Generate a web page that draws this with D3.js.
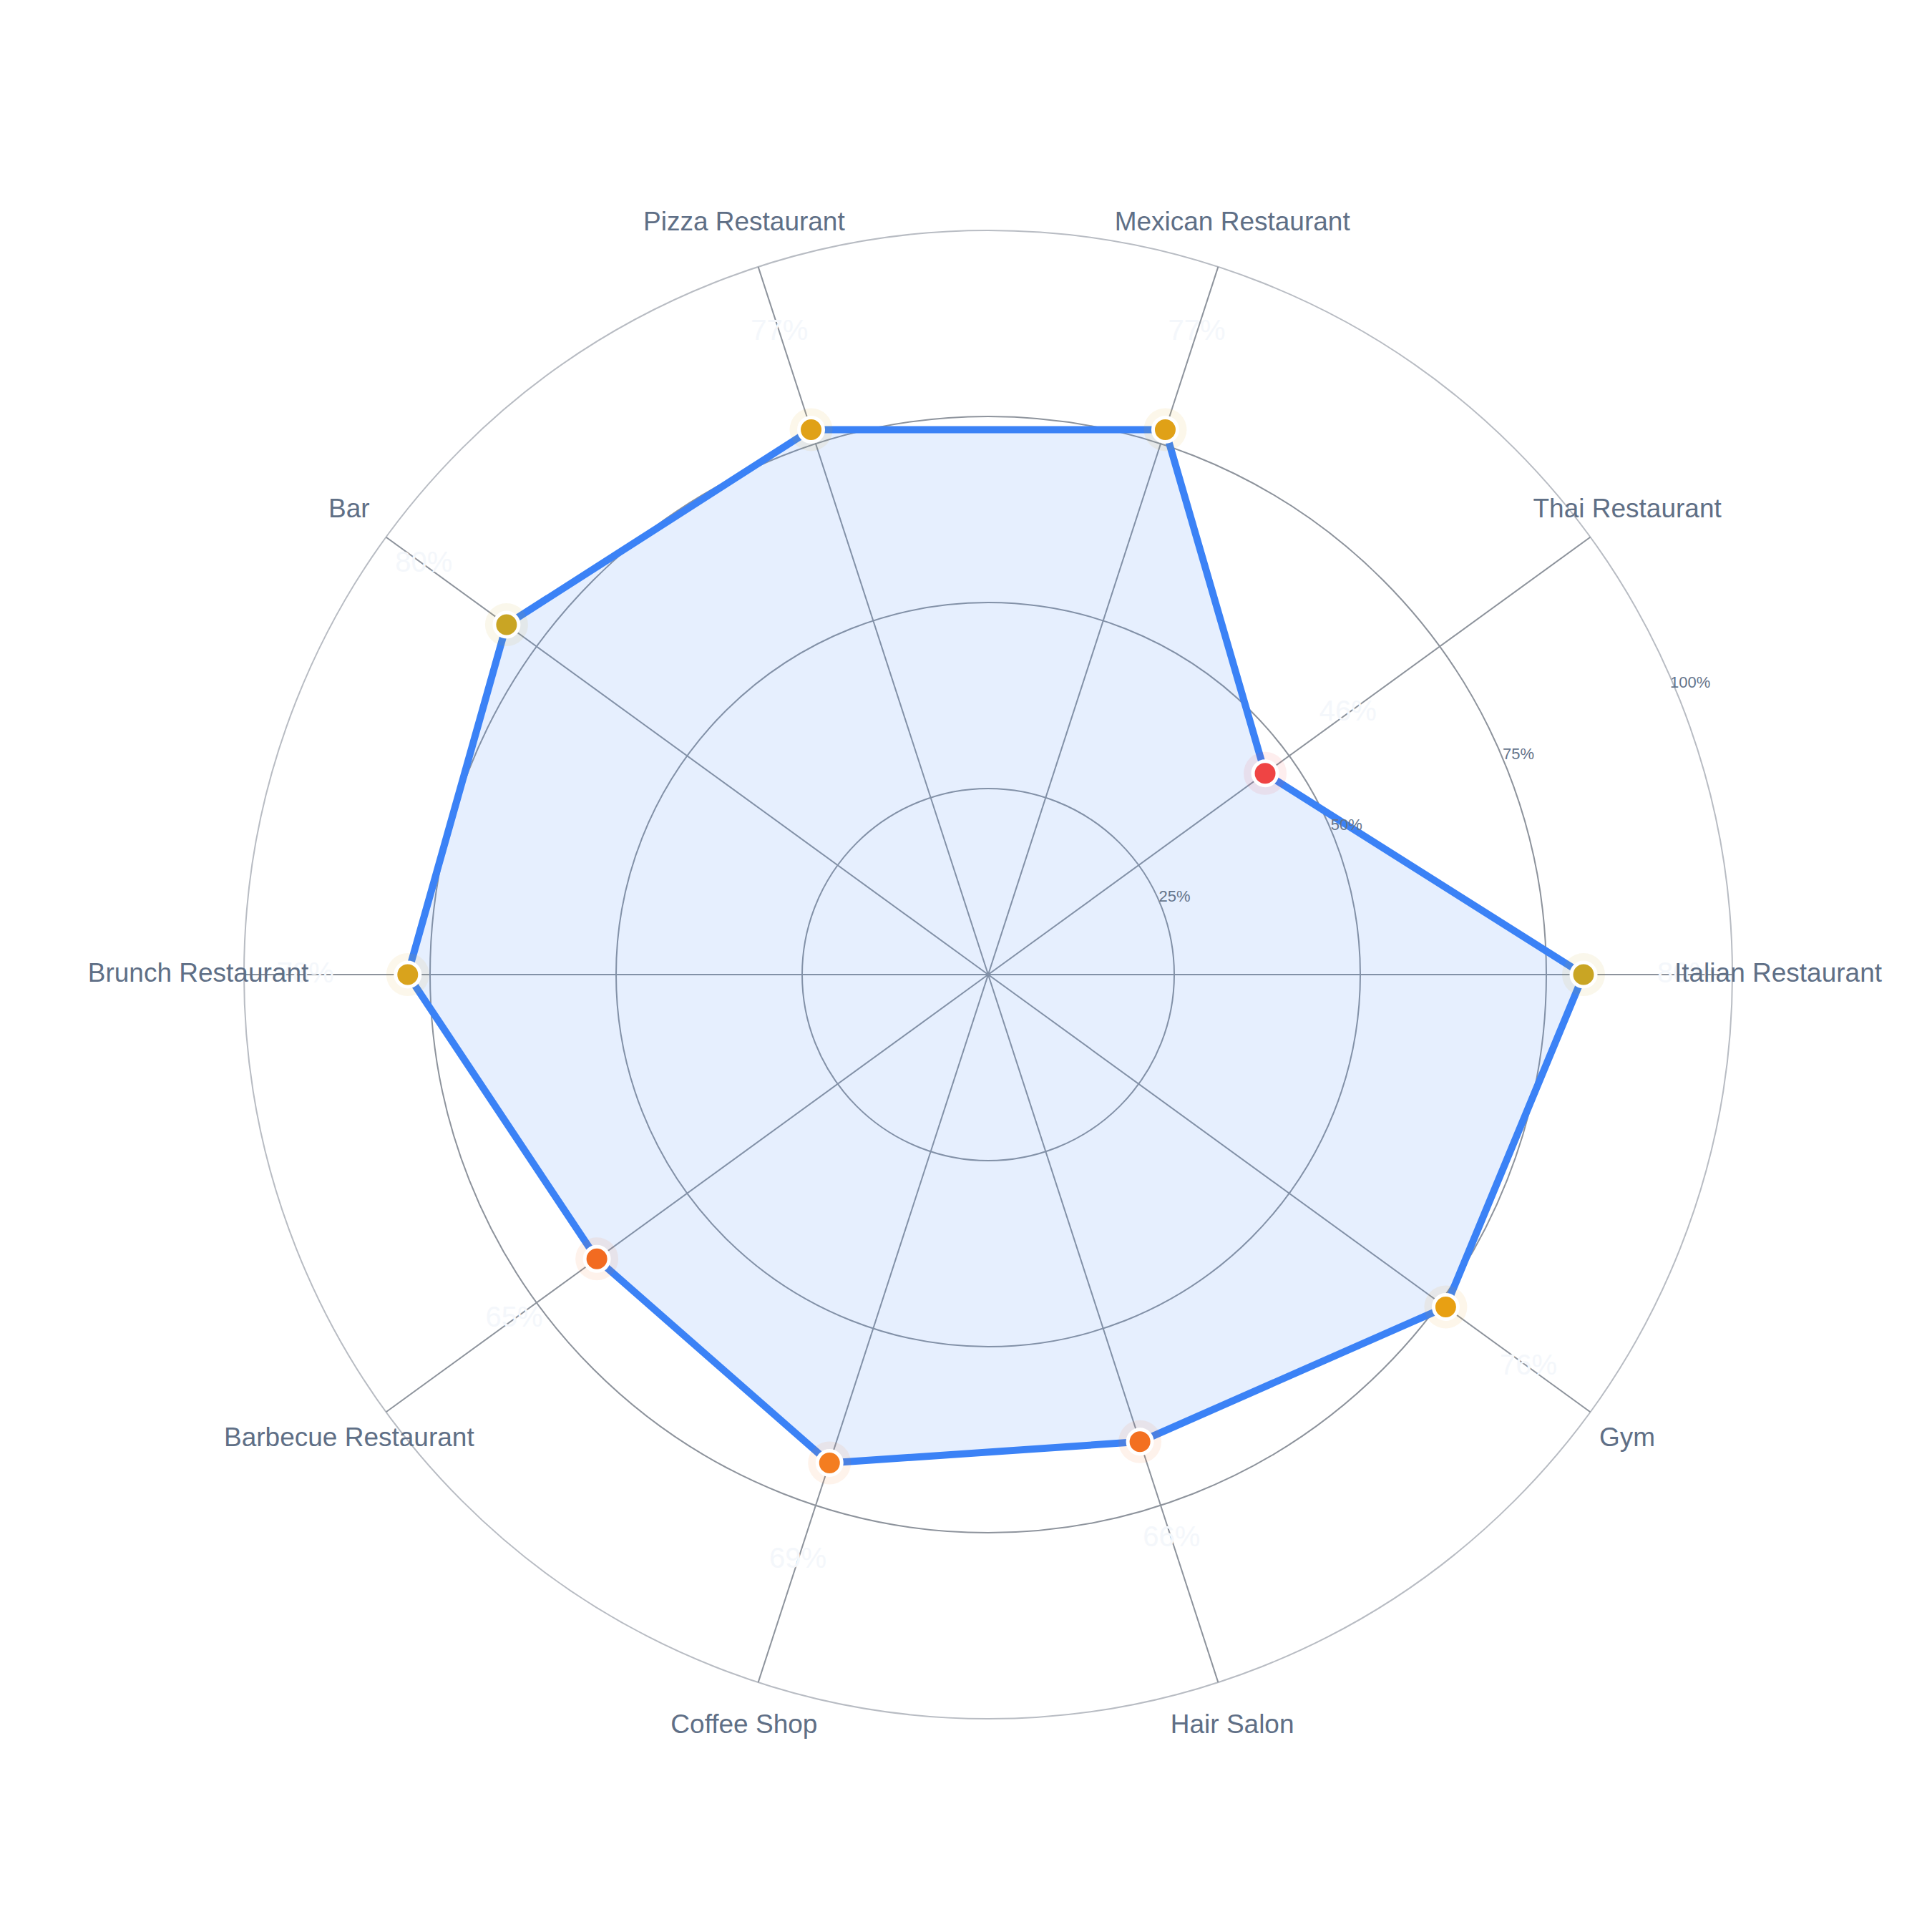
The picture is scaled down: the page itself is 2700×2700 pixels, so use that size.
<!DOCTYPE html>
<html><head><meta charset="utf-8">
<script src="https://cdn.jsdelivr.net/npm/d3@7"></script>
<style>body{margin:0;background:#fff}svg{display:block}</style>
</head><body>
<svg id="c" width="2700" height="2700"></svg>
<script>
const categories = ["Italian Restaurant","Thai Restaurant","Mexican Restaurant","Pizza Restaurant","Bar","Brunch Restaurant","Barbecue Restaurant","Coffee Shop","Hair Salon","Gym"];
const values = [80,46,77,77,80,78,65,69,66,76];
const ticks = [25,50,75,100];

const svg = d3.select("#c");
const cx = 1381, cy = 1362, R = 1040;
const g = svg.append("g").attr("transform", `translate(${cx},${cy})`);
const r = d3.scaleLinear().domain([0,100]).range([0,R]);
const ang = d3.scaleLinear().domain([0, categories.length]).range([0, 2*Math.PI]);
const pos = (i, rad) => [rad*Math.cos(-ang(i)), rad*Math.sin(-ang(i))];
const color = d3.scaleLinear().domain([46,65,70,76,80]).range(['#ef4444','#f26b21','#f58220','#e8a013','#c9a524']);
const font = "'Liberation Sans', Arial, sans-serif";

ticks.forEach(t => {
  g.append("circle").attr("r", r(t)).attr("fill","none")
   .attr("stroke", t===100 ? "#b8bcc3" : "#8d939c").attr("stroke-width", 2);
});
categories.forEach((c,i) => {
  const [x,y] = pos(i, r(100));
  g.append("line").attr("x1",0).attr("y1",0).attr("x2",x).attr("y2",y)
   .attr("stroke","#8d939c").attr("stroke-width",2);
});
const pts = values.map((v,i) => pos(i, r(v)));
const line = d3.line().curve(d3.curveLinearClosed);
g.append("path").attr("d", line(pts)).attr("fill","#3b82f6").attr("fill-opacity",0.13)
 .attr("stroke","#3b82f6").attr("stroke-width",10).attr("stroke-linejoin","round");

ticks.forEach(t => {
  const a = 22.5*Math.PI/180, rad = r(t)+22;
  g.append("text").attr("x", rad*Math.cos(a)).attr("y", -rad*Math.sin(a))
   .attr("text-anchor","middle").attr("dominant-baseline","middle")
   .attr("font-family",font).attr("font-size",22).attr("fill","#64748b").text(t+"%");
});

values.forEach((v,i) => {
  const [x,y] = pos(i, r(v));
  g.append("circle").attr("cx",x).attr("cy",y).attr("r",30).attr("fill",color(v)).attr("fill-opacity",0.09);
  g.append("circle").attr("cx",x).attr("cy",y).attr("r",17).attr("fill",color(v))
   .attr("stroke","#fff").attr("stroke-width",5);
});

values.forEach((v,i) => {
  const [x,y] = pos(i, r(v)+143);
  g.append("text").attr("x",x).attr("y",y).attr("text-anchor","middle").attr("dominant-baseline","middle")
   .attr("font-family",font).attr("font-size",40).attr("fill","#f4f7fb").text(v+"%");
});

categories.forEach((c,i) => {
  const [x,y] = pos(i, 1104);
  g.append("text").attr("x",x).attr("y",y).attr("text-anchor","middle").attr("dominant-baseline","middle")
   .attr("font-family",font).attr("font-size",37).attr("fill","#5f6f86").text(c);
});
</script>
</body></html>
